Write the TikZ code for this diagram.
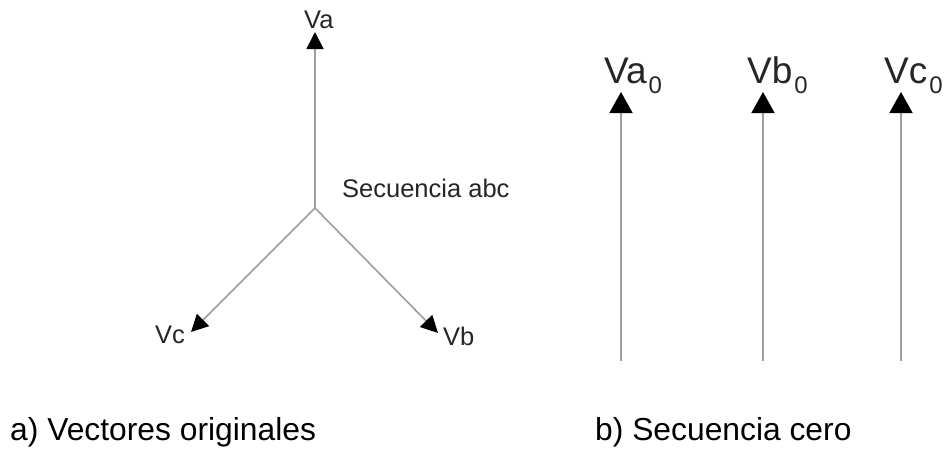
\documentclass[tikz,border=0pt]{standalone}
\usepackage{fontspec}
\setmainfont{Liberation Sans}
\usetikzlibrary{arrows.meta}
\newcommand{\zsub}{\kern2pt\raisebox{-10pt}{\fontsize{24}{24}\selectfont 0}}
\begin{document}
\begin{tikzpicture}[x=1pt,y=-1pt,
  vec/.style={draw=black!38, line width=1.6pt, -{Triangle[length=17pt,width=17pt,color=black]}},
  zvec/.style={draw=black!38, line width=1.6pt, -{Triangle[length=21pt,width=23pt,color=black]}},
  lbl/.style={text=black!85, font=\fontsize{25.5}{30}\selectfont, inner sep=0pt, anchor=base west},
  zlbl/.style={text=black!85, font=\fontsize{37}{42}\selectfont, inner sep=0pt, anchor=base west},
  caption/.style={text=black, font=\fontsize{31.8}{38}\selectfont, inner sep=0pt, anchor=base west}]
\useasboundingbox (0,0) rectangle (951,450);
\fill[white] (0,0) rectangle (951,450);

% --- a) three-phase set, abc sequence
\coordinate (o) at (315,208);
\coordinate (ta) at (315,32);
\coordinate (tb) at (438,333);
\coordinate (tc) at (191,332);
\draw[vec] (o) -- (ta);
\draw[vec] (o) -- (tb);
\draw[vec] (o) -- (tc);
\node[lbl] (va) at (304,28) {Va};
\node[lbl] (vb) at (443,345) {Vb};
\node[lbl] (vc) at (155,343) {Vc};
\node[lbl] (seq) at (342,197) {Secuencia abc};

% --- b) zero-sequence components
\coordinate (ba) at (621,361);
\coordinate (bb) at (763,361);
\coordinate (bc) at (901,361);
\coordinate (za) at (621,92);
\coordinate (zb) at (763,92);
\coordinate (zc) at (901,92);
\draw[zvec] (ba) -- (za);
\draw[zvec] (bb) -- (zb);
\draw[zvec] (bc) -- (zc);
\node[zlbl] (va0) at (604,83) {Va\zsub};
\node[zlbl] (vb0) at (747,83) {Vb\zsub};
\node[zlbl] (vc0) at (884,83) {Vc\zsub};

% --- captions
\node[caption] (capa) at (10,440) {a) Vectores originales};
\node[caption] (capb) at (595,440) {b) Secuencia cero};
\end{tikzpicture}
\end{document}
